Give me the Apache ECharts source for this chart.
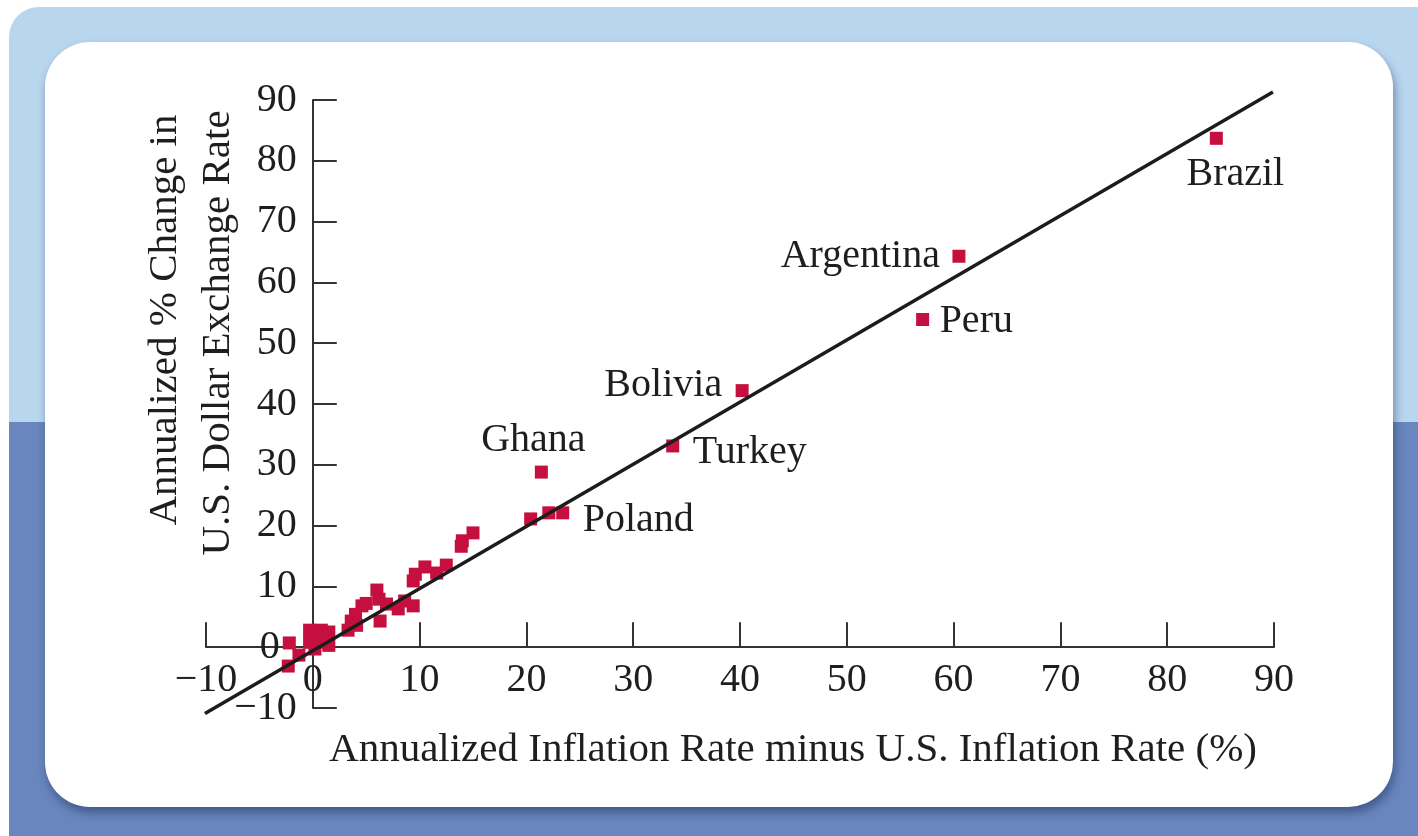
<!DOCTYPE html>
<html>
<head>
<meta charset="utf-8">
<script src="https://cdn.jsdelivr.net/npm/echarts@6/dist/echarts.min.js"></script>
<style>
  html, body { margin: 0; padding: 0; background: #ffffff; }
  #chart { width: 1418px; height: 836px; }
</style>
</head>
<body>
<div id="chart"></div>
<script>
// ---- data ----
const labeledNames = ['Brazil', 'Argentina', 'Peru', 'Bolivia', 'Turkey', 'Ghana', 'Poland'];
const labeledX     = [84.6, 60.5, 57.1, 40.2, 33.7, 21.4, 23.4];
const labeledY     = [83.7, 64.3, 53.9, 42.2, 33.1, 28.8, 22.1];

const otherX = [-0.3, 0.8, 1.5, -0.3, 0.7, 0.2, 1.5, 0.5, 1.2,
                -2.2, -1.3, -2.3,
                3.3, 3.6, 4.0, 4.6, 5.0, 4.1,
                6.0, 6.2, 6.3, 6.9, 8.0, 8.6, 9.4,
                9.4, 9.6, 10.5, 11.6, 12.5,
                13.9, 14.0, 15.0,
                20.4, 22.1];
const otherY = [2.8, 2.8, 2.5, 0.8, 0.8, -0.3, 0.3, 1.8, 1.3,
                0.7, -1.3, -3.1,
                2.8, 4.3, 5.4, 6.8, 7.2, 3.6,
                9.4, 7.9, 4.3, 7.1, 6.3, 7.6, 6.8,
                10.9, 12.0, 13.2, 12.2, 13.5,
                16.6, 17.5, 18.8,
                21.1, 22.1];

const fitLineX = [-10.1, 89.9];
const fitLineY = [-10.9, 91.3];

const axisMin = -10, axisMax = 90, axisStep = 10;
const xTitle = 'Annualized Inflation Rate minus U.S. Inflation Rate (%)';
const yTitle1 = 'Annualized % Change in';
const yTitle2 = 'U.S. Dollar Exchange Rate';

// ---- layout / styles ----
const GRID = { left: 206, right: 144, top: 100, bottom: 128 };
const W = 1418, H = 836;
const plotW = W - GRID.left - GRID.right, plotH = H - GRID.top - GRID.bottom;
// shift axes so they cross at the data origin
const xAxisShift = -plotH * (0 - axisMin) / (axisMax - axisMin);
const yAxisShift = -plotW * (0 - axisMin) / (axisMax - axisMin);

const FONT = '"Liberation Serif", "DejaVu Serif", serif';
const RED = '#c5103f';
const INK = '#1e1e1e';
const labelPlacement = {
  Brazil:    { align: 'center', offset: [19, 36] },
  Argentina: { align: 'right',  offset: [-19, 0] },
  Peru:      { align: 'left',   offset: [17, 2] },
  Bolivia:   { align: 'right',  offset: [-20, -5] },
  Turkey:    { align: 'left',   offset: [20, 7] },
  Ghana:     { align: 'center', offset: [-8, -32] },
  Poland:    { align: 'left',   offset: [20, 8] }
};

const fmt = v => (v < 0 ? '\u2212' + Math.abs(v) : String(v));

const labeledData = labeledNames.map((n, i) => ({
  name: n,
  value: [labeledX[i], labeledY[i]],
  label: {
    show: true,
    formatter: n,
    position: 'inside',
    align: labelPlacement[n].align,
    verticalAlign: 'middle',
    offset: labelPlacement[n].offset,
    color: INK,
    opacity: 1,
    fontFamily: FONT,
    fontSize: 40
  }
}));
const otherData = otherX.map((x, i) => [x, otherY[i]]);
const lineData = fitLineX.map((x, i) => [x, fitLineY[i]]);

const chart = echarts.init(document.getElementById('chart'), null, { renderer: 'canvas' });
chart.setOption({
  backgroundColor: '#ffffff',
  animation: false,
  graphic: [
    { type: 'rect', z: -30, silent: true,
      shape: { x: 9, y: 7, width: 1440, height: 860, r: 30 },
      style: { fill: '#b9d6ef' } },
    { type: 'rect', z: -29, silent: true,
      shape: { x: 9, y: 422, width: 1440, height: 440, r: 0 },
      style: { fill: '#6987be' } },
    { type: 'rect', z: -28, silent: true,
      shape: { x: 45, y: 42, width: 1348, height: 765, r: 45 },
      style: { fill: '#ffffff', shadowColor: 'rgba(20,35,80,0.45)', shadowBlur: 10, shadowOffsetY: 6, shadowOffsetX: 2 } },
    { type: 'text', z: 50, silent: true, x: 793, y: 750,
      style: { text: xTitle, font: '41px ' + FONT, fill: INK, align: 'center', verticalAlign: 'middle' } },
    { type: 'text', z: 50, silent: true, x: 165, y: 320, rotation: Math.PI / 2,
      style: { text: yTitle1, font: '41px ' + FONT, fill: INK, align: 'center', verticalAlign: 'middle' } },
    { type: 'text', z: 50, silent: true, x: 218, y: 333, rotation: Math.PI / 2,
      style: { text: yTitle2, font: '41px ' + FONT, fill: INK, align: 'center', verticalAlign: 'middle' } }
  ],
  grid: { left: GRID.left, right: GRID.right, top: GRID.top, bottom: GRID.bottom, containLabel: false },
  xAxis: {
    type: 'value', min: axisMin, max: axisMax, interval: axisStep,
    position: 'bottom', offset: xAxisShift,
    splitLine: { show: false },
    axisLine: { onZero: false, lineStyle: { color: '#333', width: 2 } },
    axisTick: { inside: true, length: 25, lineStyle: { color: '#333', width: 2 } },
    axisLabel: { formatter: fmt, margin: 13, color: INK, fontFamily: FONT, fontSize: 40 }
  },
  yAxis: {
    type: 'value', min: axisMin, max: axisMax, interval: axisStep,
    position: 'left', offset: yAxisShift,
    splitLine: { show: false },
    axisLine: { onZero: false, lineStyle: { color: '#333', width: 2 } },
    axisTick: { inside: true, length: 24, lineStyle: { color: '#333', width: 2 } },
    axisLabel: {
      formatter: v => (v === 0 ? '{z|0}' : fmt(v)),
      margin: 16, color: INK, fontFamily: FONT, fontSize: 40,
      rich: { z: { padding: [0, 17, 0, 0], color: INK, fontFamily: FONT, fontSize: 40 } }
    }
  },
  series: [
    { type: 'scatter', symbol: 'rect', symbolSize: 13, itemStyle: { color: RED, opacity: 1 }, z: 3, data: otherData },
    { type: 'scatter', symbol: 'rect', symbolSize: 13, itemStyle: { color: RED, opacity: 1 }, z: 3, data: labeledData },
    { type: 'line', data: lineData, symbol: 'none', clip: false, z: 4,
      lineStyle: { color: '#1c1c1c', width: 3.5 } }
  ]
});
</script>
</body>
</html>
